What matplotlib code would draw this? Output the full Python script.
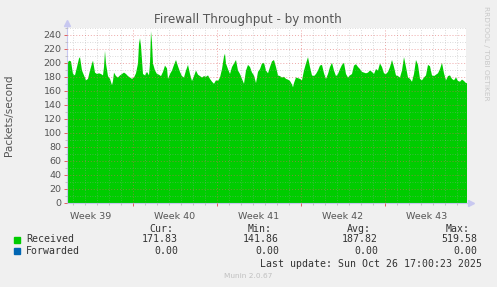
import matplotlib
matplotlib.use("Agg")
import matplotlib.pyplot as plt
from matplotlib.patches import Rectangle
from matplotlib.lines import Line2D
import matplotlib.transforms as mtransforms

# hours since Mon Sep 22 2025 00:00
hours = [37, 40, 44, 48, 52, 56, 60, 62, 66, 70, 74, 78, 82, 86, 88, 92, 96, 100, 104, 108,
         110, 112, 114, 118, 122, 126, 128, 130, 134, 138, 142, 146, 150, 154, 158, 162, 166, 170, 174, 178,
         180, 182, 184, 188, 192, 196, 200, 202, 204, 206, 208, 212, 216, 220, 224, 228, 232, 236, 238, 242,
         246, 250, 254, 258, 262, 266, 270, 274, 278, 282, 286, 290, 294, 298, 302, 306, 310, 314, 318, 322,
         326, 330, 334, 338, 342, 346, 350, 352, 354, 358, 362, 366, 370, 374, 378, 382, 386, 390, 394, 398,
         402, 406, 410, 414, 418, 422, 426, 430, 434, 438, 442, 446, 450, 454, 458, 462, 466, 470, 474, 478,
         482, 486, 488, 490, 494, 498, 502, 506, 510, 514, 518, 522, 526, 530, 534, 538, 542, 546, 550, 554,
         558, 562, 566, 570, 574, 578, 582, 586, 590, 594, 598, 602, 606, 610, 614, 618, 622, 626, 630, 634,
         638, 642, 646, 650, 654, 658, 662, 666, 670, 674, 678, 682, 686, 690, 694, 698, 702, 706, 710, 714,
         718, 722, 726, 730, 734, 738, 742, 746, 750, 754, 758, 762, 766, 770, 774, 778, 782, 786, 790, 794,
         798, 802, 806, 810, 814, 818, 822, 826, 830, 834, 836]
received = [200, 204, 203, 185, 183, 195, 207, 209, 190, 183, 176, 178, 190, 200, 204, 187, 185, 186, 185, 183,
            195, 218, 200, 182, 178, 169, 175, 187, 182, 180, 183, 185, 187, 185, 182, 180, 178, 180, 186, 200,
            228, 236, 225, 185, 183, 188, 183, 200, 246, 230, 200, 190, 185, 184, 182, 188, 197, 193, 178, 185,
            190, 198, 205, 196, 188, 182, 180, 190, 198, 185, 175, 182, 190, 184, 182, 180, 182, 181, 183, 178,
            174, 171, 176, 175, 180, 192, 210, 214, 200, 192, 185, 195, 200, 205, 190, 185, 178, 171, 190, 198,
            195, 187, 183, 172, 188, 192, 200, 201, 190, 186, 195, 203, 205, 195, 183, 182, 180, 181, 178, 177,
            175, 170, 166, 172, 180, 179, 178, 176, 190, 200, 209, 195, 183, 182, 185, 190, 197, 198, 186, 178,
            185, 195, 201, 190, 182, 185, 192, 198, 201, 185, 180, 183, 185, 197, 199, 195, 192, 188, 187, 186,
            187, 190, 188, 185, 192, 190, 200, 195, 186, 185, 188, 195, 205, 195, 183, 182, 180, 190, 209, 195,
            180, 178, 174, 185, 205, 198, 178, 176, 180, 183, 198, 196, 183, 182, 184, 186, 192, 201, 186, 176,
            182, 183, 178, 176, 180, 175, 174, 177, 175, 172, 172]
assert len(hours) == len(received)

week_starts = [168, 336, 504, 672]
week_centers = [84, 252, 420, 588, 756]
week_labels = ["Week 39", "Week 40", "Week 41", "Week 42", "Week 43"]

legend_names = ["Received", "Forwarded"]
legend_colors = ["#00CC00", "#0066B3"]
stat_heads = ["Cur:", "Min:", "Avg:", "Max:"]
stat_rows = [["171.83", "141.86", "187.82", "519.58"],
             ["0.00", "0.00", "0.00", "0.00"]]

W, H = 497, 287
fig = plt.figure(figsize=(W / 100, H / 100), dpi=100, facecolor="#F0F0F0")
ax = fig.add_axes([67 / W, 1 - 203 / H, 399 / W, 175 / H])
ax.set_facecolor("white")

ax.fill_between(hours, received, 0, color="#00CC00", lw=0, zorder=1)

ax.set_xlim(37, 835)
ax.set_ylim(0, 250)

# grid like rrdtool: red major, grey minor, dotted, drawn over the area
ax.set_yticks(range(0, 241, 20))
ax.set_yticks(range(0, 251, 10), minor=True)
ax.set_xticks(week_starts)
ax.set_xticks(range(48, 835, 24), minor=True)
ax.set_xticklabels([])
ax.set_axisbelow(False)
ax.grid(which="major", color="#E06060", alpha=0.55, ls=(0, (1, 2)), lw=0.7, zorder=3)
ax.grid(which="minor", color="#A0A0A0", alpha=0.5, ls=(0, (1, 2)), lw=0.6, zorder=2)

for s in ["top", "right"]:
    ax.spines[s].set_visible(False)
for s in ["left", "bottom"]:
    ax.spines[s].set_color("#C8C8F0")
    ax.spines[s].set_linewidth(0.8)

ax.tick_params(which="major", length=2, width=0.7, color="#E06060",
               labelsize=6.8, labelcolor="#555555", pad=2)
ax.tick_params(which="minor", length=1.5, width=0.5, color="#B0B0B0")

# axis arrows
ax.add_line(Line2D([0, 0], [1, 1.02], transform=ax.transAxes, color="#C8C8F0", lw=0.8, clip_on=False))
ax.plot([0], [1.03], marker="^", ms=4, color="#C8C8F0", transform=ax.transAxes, clip_on=False)
ax.add_line(Line2D([1, 1.01], [0, 0], transform=ax.transAxes, color="#C8C8F0", lw=0.8, clip_on=False))
ax.plot([1.012], [0], marker=">", ms=4, color="#C8C8F0", transform=ax.transAxes, clip_on=False)

trans = mtransforms.blended_transform_factory(ax.transData, ax.transAxes)
for c, lab in zip(week_centers, week_labels):
    ax.text(c, -0.05, lab, transform=trans, ha="center", va="top",
            fontsize=6.8, color="#555555")

ax.set_ylabel("Packets/second", fontsize=7.6, color="#555555")
ax.yaxis.set_label_coords((14 - 67) / 399, 0.5)

fig.text(248 / W, 1 - 19 / H, "Firewall Throughput - by month", ha="center", va="center",
         fontsize=8.6, color="#555555")
fig.text(486 / W, 1 - 53 / H, "RRDTOOL / TOBI OETIKER", rotation=-90, ha="center", va="center",
         fontsize=5.3, color="#C8C8C8")

mono = dict(family="DejaVu Sans Mono", fontsize=7.1, color="#333333", va="center")
head_x = [173, 272, 371, 470]
val_x = [178, 279, 378, 477]
for hx, h in zip(head_x, stat_heads):
    fig.text(hx / W, 1 - 228.5 / H, h, ha="right", **mono)
row_y = [239.5, 251]
for ry, name, col, vals in zip(row_y, legend_names, legend_colors, stat_rows):
    fig.patches.append(Rectangle((14 / W, 1 - (ry + 3) / H), 6 / W, 6 / H,
                                 transform=fig.transFigure, color=col))
    fig.text(26 / W, 1 - ry / H, name, ha="left", **mono)
    for vx, v in zip(val_x, vals):
        fig.text(vx / W, 1 - ry / H, v, ha="right", **mono)
fig.text(482 / W, 1 - 264 / H, "Last update: Sun Oct 26 17:00:23 2025", ha="right", **mono)
fig.text(248 / W, 1 - 276 / H, "Munin 2.0.67", ha="center", va="center",
         fontsize=5.3, color="#C0C0C0")

fig.savefig("out.png", dpi=100, facecolor=fig.get_facecolor())
